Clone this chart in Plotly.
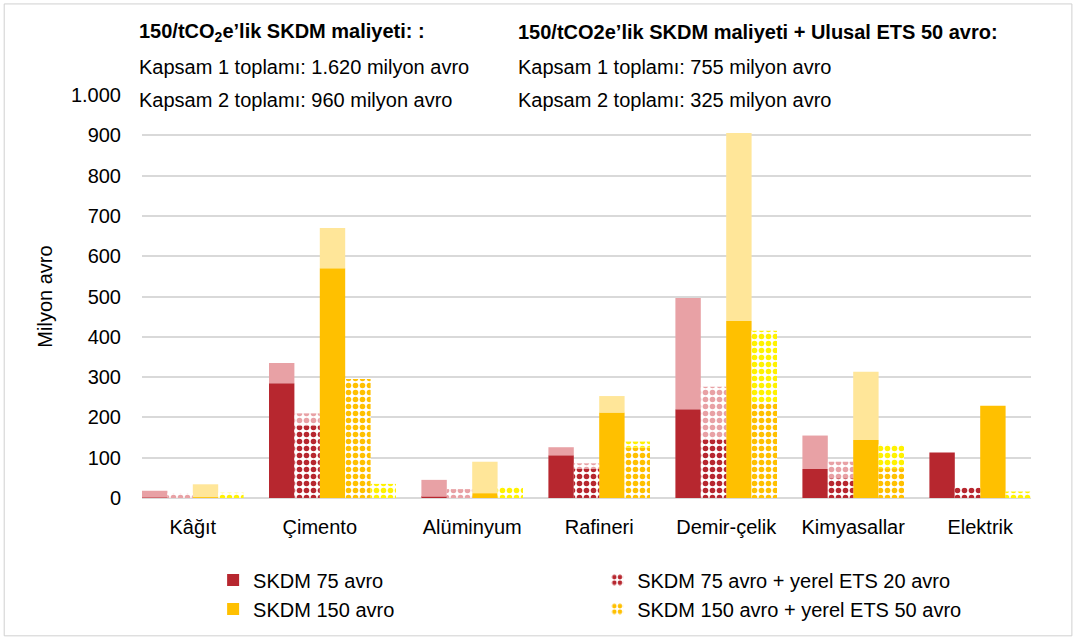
import numpy as np
import plotly.graph_objects as go

# sektörler
kategoriler = ["Kâğıt", "Çimento", "Alüminyum", "Rafineri", "Demir-çelik", "Kimyasallar", "Elektrik"]

# milyon avro; k1 = Kapsam 1 (koyu), k2 = Kapsam 2 (açık, üstte)
skdm75_k1 = [1, 285, 3, 106, 220, 72, 113]
skdm75_k2 = [17, 50, 42, 20, 276, 83, 0]
ets20_k1 = [0, 180, 0, 73, 144, 49, 26]
ets20_k2 = [12, 30, 22, 13, 132, 41, 0]
skdm150_k1 = [2, 570, 12, 212, 439, 144, 229]
skdm150_k2 = [32, 100, 78, 41, 467, 169, 0]
ets50_k1 = [0, 295, 0, 125, 235, 74, 0]
ets50_k2 = [13, 35, 28, 15, 180, 59, 16]

y_ticks = [0, 100, 200, 300, 400, 500, 600, 700, 800, 900, 1000]

# orijinal grafikte ETS 50 Kapsam 2 çubuğu ayrı sütunda duran sektör (Çimento)
kaydir = [False, True, False, False, False, False, False]
# her sektördeki ilk çubuğun yuvası (5 yuva / sektör)
ilk_yuva = np.array([0, 0, 1, 1, 1, 1, 1])

KOYU_KIRMIZI = "#B7272F"
PEMBE = "#E8A1A5"
ALTIN = "#FFC000"
ACIK_SARI = "#FFE699"
PARLAK_SARI = "#FFF200"

W = 0.2
idx = np.arange(len(kategoriler))


def xpos(i):
    return idx - 0.5 + W * (ilk_yuva + i) + W / 2


def desen(renk):
    return dict(shape=".", fgcolor=renk, bgcolor="white", size=7, solidity=0.5, fillmode="replace")


fig = go.Figure()

seriler = [
    ("SKDM 75 avro", skdm75_k1, skdm75_k2, KOYU_KIRMIZI, PEMBE, False, "legend"),
    ("SKDM 150 avro", skdm150_k1, skdm150_k2, ALTIN, ACIK_SARI, False, "legend"),
    ("SKDM 75 avro + yerel ETS 20 avro", ets20_k1, ets20_k2, KOYU_KIRMIZI, PEMBE, True, "legend2"),
    ("SKDM 150 avro + yerel ETS 50 avro", ets50_k1, ets50_k2, ALTIN, PARLAK_SARI, True, "legend2"),
]
yuva = [0, 2, 1, 3]

for (ad, k1, k2, r1, r2, desenli, lg), i in zip(seriler, yuva):
    x = xpos(i)
    m1 = dict(color=r1, line=dict(width=0))
    m2 = dict(color=r2, line=dict(width=0))
    if desenli:
        m1 = dict(color="white", pattern=desen(r1), line=dict(width=0))
        m2 = dict(color="white", pattern=desen(r2), line=dict(width=0))
    fig.add_trace(go.Bar(x=x, y=k1, width=W, name=ad, marker=m1, legendgroup=ad, legend=lg))
    if i == 3:
        k2_normal = [None if s else v for v, s in zip(k2, kaydir)]
        k2_kayik = [v if s else None for v, s in zip(k2, kaydir)]
        fig.add_trace(go.Bar(x=xpos(i + 1), y=k2_kayik, width=W, marker=m2,
                             legendgroup=ad, showlegend=False, legend=lg))
    else:
        k2_normal = k2
    fig.add_trace(go.Bar(x=x, y=k2_normal, base=k1, width=W, marker=m2,
                         legendgroup=ad, showlegend=False, legend=lg))

# etiketler dolu çubukların ortasında
etiket_x = idx - 0.5 + W * ilk_yuva + 2 * W

leg_ortak = dict(orientation="v", y=-0.155, xanchor="left", yanchor="top",
                 font=dict(size=20), tracegroupgap=5, traceorder="normal",
                 bgcolor="rgba(0,0,0,0)")

fig.update_layout(
    width=1078, height=641,
    barmode="overlay",
    plot_bgcolor="white", paper_bgcolor="white",
    separators=",.",
    font=dict(family="Liberation Sans, Arial, sans-serif", size=20, color="#000000"),
    margin=dict(l=142, r=47, t=95, b=143),
    showlegend=True,
    legend=dict(x=0.08, **leg_ortak),
    legend2=dict(x=0.512, **leg_ortak),
)

fig.update_xaxes(range=[-0.5, 6.5], tickvals=etiket_x, ticktext=kategoriler,
                 showgrid=False, zeroline=False, showline=False,
                 tickfont=dict(size=20), ticks="outside", ticklen=11, tickcolor="white")
fig.update_yaxes(range=[0, 1000], tickvals=y_ticks, tickformat=",d",
                 gridcolor="#D9D9D9", gridwidth=1.5, zeroline=True,
                 zerolinecolor="#D9D9D9", zerolinewidth=1.5, showline=False,
                 tickfont=dict(size=20), ticklabelstandoff=20,
                 title=dict(text="Milyon avro", font=dict(size=20), standoff=12))

basliklar = [
    (-0.006, 1.156, "<b>150/tCO<sub>2</sub>e’lik SKDM maliyeti: :</b>"),
    (-0.006, 1.069, "Kapsam 1 toplamı: 1.620 milyon avro"),
    (-0.006, 0.988, "Kapsam 2 toplamı: 960 milyon avro"),
    (0.421, 1.156, "<b>150/tCO2e’lik SKDM maliyeti + Ulusal ETS 50 avro:</b>"),
    (0.421, 1.069, "Kapsam 1 toplamı: 755 milyon avro"),
    (0.421, 0.988, "Kapsam 2 toplamı: 325 milyon avro"),
]
for x, y, t in basliklar:
    fig.add_annotation(x=x, y=y, xref="paper", yref="paper", text=t, showarrow=False,
                       xanchor="left", yanchor="middle", font=dict(size=20))

fig.add_shape(type="rect", xref="paper", yref="paper", x0=-0.155, x1=1.046, y0=-0.342, y1=1.226,
              line=dict(color="#D0D0D0", width=1))

fig.write_html("out.html", config={"displayModeBar": False},
               post_script="document.body.style.margin='0';")
